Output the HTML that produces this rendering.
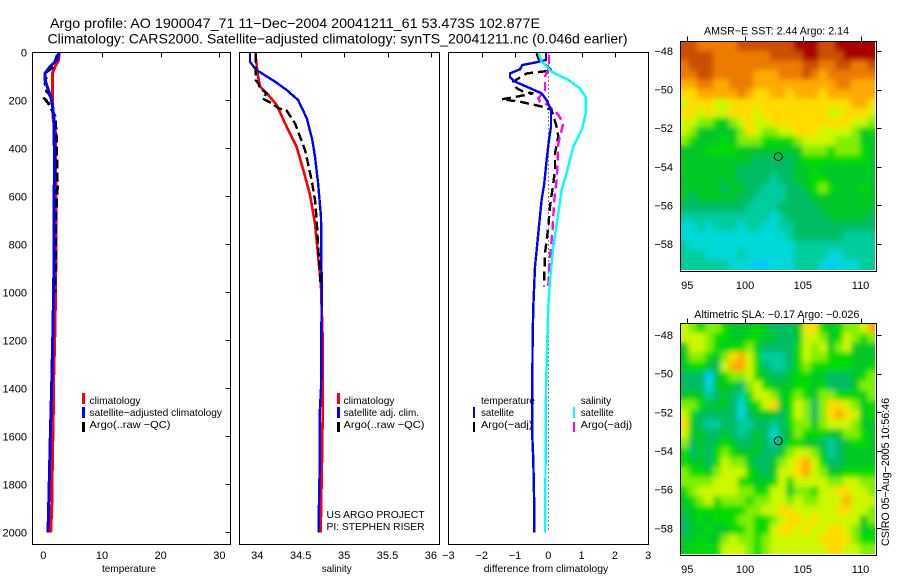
<!DOCTYPE html>
<html lang="en">
<head>
<meta charset="utf-8">
<title>Argo profile 1900047_71</title>
<style>
html,body{margin:0;padding:0;background:#fff;}
svg{display:block;}
text{font-family:"Liberation Sans",sans-serif;fill:#000;}
.t{font-size:14px;}
.s{font-size:11px;}
.l{font-size:10.5px;}
.ax{fill:none;stroke:#000;stroke-width:1;shape-rendering:crispEdges;}
</style>
</head>
<body>
<svg id="fig" xmlns="http://www.w3.org/2000/svg" width="900" height="580" viewBox="0 0 900 580">
  <defs>
    <clipPath id="clip-sst"><rect x="681" y="42" width="194" height="228"/></clipPath>
    <clipPath id="clip-sla"><rect x="681" y="324" width="194" height="230"/></clipPath>
    <filter id="soften" x="-5%" y="-5%" width="110%" height="110%"><feGaussianBlur stdDeviation="2.6"/></filter>
  </defs>
  <rect x="0" y="0" width="900" height="580" fill="#fff"/>
  <text class="t" x="50" y="28" textLength="490" lengthAdjust="spacingAndGlyphs">Argo profile: AO 1900047_71 11−Dec−2004 20041211_61 53.473S 102.877E</text>
  <text class="t" x="47.5" y="43.5" textLength="580" lengthAdjust="spacingAndGlyphs">Climatology: CARS2000. Satellite−adjusted climatology: synTS_20041211.nc (0.046d earlier)</text>

  <g clip-path="url(#clip-sst)">
    <g id="heat-sst"></g>
    <use href="#heat-sst" filter="url(#soften)"/>
  </g>
  <g clip-path="url(#clip-sla)">
    <g id="heat-sla"></g>
    <use href="#heat-sla" filter="url(#soften)"/>
  </g>
  <g id="marks"></g>
  <g id="ticks"></g>

  <rect class="ax" x="32.5" y="52.5" width="198" height="492"/>
  <rect class="ax" x="239.5" y="52.5" width="200" height="492"/>
  <rect class="ax" x="448.5" y="52.5" width="200" height="492"/>
  <rect class="ax" x="680.5" y="41.5" width="196" height="230"/>
  <rect class="ax" x="680.5" y="323.5" width="196" height="232"/>

  <text class="l" x="129" y="572" text-anchor="middle" textLength="54" lengthAdjust="spacingAndGlyphs">temperature</text>
  <text class="l" x="336.7" y="572" text-anchor="middle" textLength="30" lengthAdjust="spacingAndGlyphs">salinity</text>
  <text class="l" x="546" y="572" text-anchor="middle" textLength="124.5" lengthAdjust="spacingAndGlyphs">difference from climatology</text>

  <g shape-rendering="crispEdges">
    <rect x="82" y="393" width="3" height="11" fill="#f00"/>
    <rect x="82" y="407" width="3" height="11" fill="#00f"/>
    <rect x="82" y="422" width="3" height="10" fill="#000"/>
  </g>
  <text class="l" x="89.5" y="404" textLength="51" lengthAdjust="spacingAndGlyphs">climatology</text>
  <text class="l" x="89.5" y="416" textLength="132.5" lengthAdjust="spacingAndGlyphs">satellite−adjusted climatology</text>
  <text class="l" x="89.5" y="428" textLength="81" lengthAdjust="spacingAndGlyphs">Argo(..raw −QC)</text>

  <g shape-rendering="crispEdges">
    <rect x="337" y="393" width="3" height="11" fill="#f00"/>
    <rect x="337" y="407" width="3" height="11" fill="#00f"/>
    <rect x="337" y="422" width="3" height="10" fill="#000"/>
  </g>
  <text class="l" x="343.5" y="404" textLength="51" lengthAdjust="spacingAndGlyphs">climatology</text>
  <text class="l" x="343.5" y="416" textLength="75.5" lengthAdjust="spacingAndGlyphs">satellite adj. clim.</text>
  <text class="l" x="343.5" y="428" textLength="81" lengthAdjust="spacingAndGlyphs">Argo(..raw −QC)</text>
  <text class="l" x="326.5" y="518" textLength="98" lengthAdjust="spacingAndGlyphs">US ARGO PROJECT</text>
  <text class="l" x="326.5" y="530" textLength="98" lengthAdjust="spacingAndGlyphs">PI: STEPHEN RISER</text>

  <g shape-rendering="crispEdges">
    <rect x="473" y="407" width="2" height="11" fill="#00f"/>
    <rect x="473" y="422" width="2" height="10" fill="#000"/>
    <rect x="573" y="407" width="2" height="11" fill="#0ff"/>
    <rect x="573" y="422" width="2" height="10" fill="#f0f"/>
  </g>
  <text class="l" x="481" y="404" textLength="54" lengthAdjust="spacingAndGlyphs">temperature</text>
  <text class="l" x="481" y="416" textLength="33" lengthAdjust="spacingAndGlyphs">satellite</text>
  <text class="l" x="481" y="428" textLength="51.5" lengthAdjust="spacingAndGlyphs">Argo(−adj)</text>
  <text class="l" x="580.7" y="404" textLength="30.5" lengthAdjust="spacingAndGlyphs">salinity</text>
  <text class="l" x="580.7" y="416" textLength="33" lengthAdjust="spacingAndGlyphs">satellite</text>
  <text class="l" x="580.7" y="428" textLength="51.5" lengthAdjust="spacingAndGlyphs">Argo(−adj)</text>

  <text class="s" x="704" y="34.5" textLength="145" lengthAdjust="spacingAndGlyphs">AMSR−E SST: 2.44 Argo: 2.14</text>
  <text class="s" x="694.3" y="318" textLength="165" lengthAdjust="spacingAndGlyphs">Altimetric SLA: −0.17 Argo: −0.026</text>
  <text class="s" transform="translate(889,546) rotate(-90)" x="0" y="0" textLength="148" lengthAdjust="spacingAndGlyphs">CSIRO 05−Aug−2005 10:56:46</text>
</svg>

<script>
/* ---- axis tick labels ---- */
const depthTicks = [0, 200, 400, 600, 800, 1000, 1200, 1400, 1600, 1800, 2000];
const tempTicks = [0, 10, 20, 30];
const salTicks = [34, 34.5, 35, 35.5, 36];
const diffTicks = [-3, -2, -1, 0, 1, 2, 3];
const lonTicks = [95, 100, 105, 110];
const latTicks = [-48, -50, -52, -54, -56, -58];

/* ---- temperature panel ---- */
const tempClimDepth = [0, 32, 60, 88, 226, 281, 337, 781, 1000, 1200, 1400, 1500, 1700, 1900, 2000];
const tempClimValues = [2.73, 2.6, 2.0, 1.54, 1.54, 1.7, 2.1, 2.16, 2.1, 1.95, 1.72, 1.7, 1.55, 1.43, 1.26];
const tempSatDepth = [0, 25, 39, 60, 88, 115, 157, 191, 226, 281, 406, 781, 1000, 1200, 1400, 1600, 1800, 2000];
const tempSatValues = [2.62, 2.5, 1.99, 1.14, 0.29, 0.29, 0.86, 1.31, 1.6, 1.82, 1.88, 1.85, 1.75, 1.6, 1.42, 1.2, 1.0, 0.8];
const tempArgoDepth = [10, 60, 81, 130, 164, 178, 192, 217, 268, 337, 450, 560, 675, 1000];
const tempArgoValues = [2.4, 1.7, 0.6, 0.3, 0.6, 1.2, 0.2, 1.0, 2.0, 2.2, 2.3, 2.4, 2.15, 2.0];

/* ---- salinity panel ---- */
const salClimDepth = [0, 18, 88, 143, 178, 219, 296, 393, 490, 594, 713, 824, 976, 1200, 1500, 1700, 1900, 2000];
const salClimValues = [33.981, 33.981, 34.004, 34.031, 34.127, 34.223, 34.319, 34.453, 34.53, 34.607, 34.665, 34.695, 34.734, 34.753, 34.753, 34.745, 34.735, 34.73];
const salSatDepth = [0, 39, 71, 92, 122, 157, 199, 275, 365, 435, 546, 685, 976, 1400, 1500, 1700, 1900, 2000];
const salSatValues = [33.916, 33.916, 33.98, 34.07, 34.204, 34.339, 34.47, 34.57, 34.634, 34.665, 34.7, 34.734, 34.742, 34.734, 34.72, 34.72, 34.71, 34.705];
const salArgoDepth = [4, 115, 129, 150, 171, 192, 212, 233, 243, 296, 351, 407, 469, 532, 615, 699, 810, 921, 976];
const salArgoValues = [33.98, 33.98, 34.012, 34.031, 34.108, 34.058, 34.165, 34.242, 34.338, 34.434, 34.492, 34.55, 34.588, 34.626, 34.665, 34.684, 34.7, 34.722, 34.73];

/* ---- difference panel ---- */
const diffTempSatDepth = [0, 32, 43, 53, 71, 88, 104, 122, 171, 199, 240, 310, 365, 449, 546, 615, 754, 893, 1060, 1200, 1400, 1600, 1700, 1900, 2000];
const diffTempSatValues = [-0.07, -0.07, -0.4, -0.78, -0.85, -1.15, -1.15, -1.0, -0.2, -0.05, 0.08, 0.08, 0.02, -0.05, -0.12, -0.2, -0.3, -0.4, -0.45, -0.47, -0.48, -0.48, -0.45, -0.42, -0.42];
const diffSalSatDepth = [0, 39, 81, 115, 150, 185, 254, 317, 393, 476, 574, 671, 810, 950, 1060, 1200, 1400, 1700, 2000];
const diffSalSatValues = [-0.3, -0.2, 0.1, 0.6, 0.95, 1.12, 1.12, 1.02, 0.75, 0.6, 0.4, 0.3, 0.15, 0.05, 0.0, -0.03, -0.07, -0.08, -0.1];
const diffTempArgoDepth = [4, 25, 76, 81, 88, 122, 150, 164, 171, 185, 196, 206, 226, 240, 310, 351, 421, 490, 546, 643, 726, 838, 976];
const diffTempArgoValues = [-0.35, -0.3, 0.1, -0.2, -0.65, -1.05, -0.95, -0.75, -0.45, -0.95, -1.4, -0.85, -0.2, 0.1, 0.25, 0.3, 0.2, 0.2, 0.15, 0.05, 0, -0.1, -0.13];
const diffSalArgoDepth = [11, 67, 101, 157, 192, 206, 220, 261, 296, 379, 463, 532, 615, 754, 851, 976];
const diffSalArgoValues = [0.02, 0.02, -0.1, -0.1, -0.3, -0.25, 0, 0.3, 0.45, 0.3, 0.28, 0.25, 0.18, 0.12, 0.05, 0];
const zeroLineDepth = [0, 2000];
const zeroLineValues = [0, 0];

/* ---- map positions ---- */
const floatLon = [102.877];
const floatLat = [-53.473];

/* ---- heatmap values, colour-level per cell (north to south) ---- */
const sstRow00 = [11,11,10,10,10,10,10,11,11,11,11,11,11,11,12,12,12,11,11,12,12,12,12,12];
const sstRow01 = [11,11,11,11,10,10,10,10,10,10,10,11,11,11,11,12,12,11,11,11,12,12,12,12];
const sstRow02 = [10,11,11,11,10,10,10,10,10,10,10,10,10,10,10,11,11,10,10,11,11,10,10,11];
const sstRow03 = [10,10,11,11,10,10,10,10,10,9,9,9,10,10,10,11,10,9,10,10,10,10,10,10];
const sstRow04 = [9,9,10,10,9,9,10,10,10,9,9,9,9,9,9,9,9,9,9,10,10,9,9,9];
const sstRow05 = [8,8,9,9,9,9,9,10,9,8,8,9,9,8,9,9,9,8,9,9,9,9,9,9];
const sstRow06 = [7,8,8,8,7,7,8,8,8,8,8,8,8,8,8,8,8,8,8,8,8,9,9,8];
const sstRow07 = [8,8,7,8,7,7,8,8,8,7,8,8,8,8,8,8,8,8,7,7,8,8,8,7];
const sstRow08 = [7,7,6,6,5,4,6,7,8,7,7,8,8,8,8,8,8,8,8,8,8,7,7,6];
const sstRow09 = [7,6,4,4,4,4,4,6,8,7,6,6,7,7,8,8,8,7,7,7,7,6,4,5];
const sstRow10 = [6,5,4,4,4,5,4,6,6,6,5,5,5,5,6,7,7,7,7,6,6,6,4,4];
const sstRow11 = [4,4,4,5,5,5,5,4,4,4,4,4,4,4,4,6,6,6,5,6,6,6,5,4];
const sstRow12 = [4,4,4,4,4,4,4,4,4,3,3,3,3,3,4,5,5,5,5,5,5,5,5,4];
const sstRow13 = [4,4,4,4,4,4,4,3,3,3,3,3,3,3,4,4,5,4,4,4,4,4,4,4];
const sstRow14 = [4,4,4,4,4,4,4,3,3,3,3,2,3,3,4,4,5,5,4,4,4,4,4,4];
const sstRow15 = [4,4,4,4,4,3,4,4,3,3,2,2,2,3,3,4,5,6,5,4,4,4,5,4];
const sstRow16 = [4,3,4,4,4,4,4,3,3,2,2,2,2,3,3,3,4,4,4,4,4,4,4,4];
const sstRow17 = [3,3,3,3,3,3,3,3,2,2,2,2,3,3,3,3,3,4,4,4,4,4,4,4];
const sstRow18 = [2,2,2,2,2,2,2,2,2,2,2,1,2,3,3,3,3,3,4,4,4,4,4,3];
const sstRow19 = [1,1,2,1,2,2,2,1,2,2,1,1,2,2,3,3,3,3,3,3,3,3,3,3];
const sstRow20 = [1,1,1,1,1,1,1,1,1,1,1,1,1,2,3,3,3,3,3,3,2,2,2,2];
const sstRow21 = [2,1,1,1,1,1,1,1,1,1,1,1,1,1,2,2,2,2,2,2,2,2,2,2];
const sstRow22 = [2,2,2,1,1,1,1,2,1,1,1,1,1,1,2,2,2,2,1,1,2,2,2,2];
const sstRow23 = [2,2,2,2,2,2,1,1,1,0,0,1,1,1,2,2,2,1,0,1,1,1,2,2];
const sstRows = [sstRow00,sstRow01,sstRow02,sstRow03,sstRow04,sstRow05,sstRow06,sstRow07,sstRow08,sstRow09,sstRow10,sstRow11,sstRow12,sstRow13,sstRow14,sstRow15,sstRow16,sstRow17,sstRow18,sstRow19,sstRow20,sstRow21,sstRow22,sstRow23];

const slaRow00 = [7,6,5,6,6,5,4,4,4,5,4,3,3,3,4,8,8,5,4,5,6,6,7,9];
const slaRow01 = [7,7,7,6,5,5,4,4,5,5,4,4,3,3,4,7,7,6,4,5,7,6,5,6];
const slaRow02 = [4,7,7,6,5,4,5,5,6,4,3,3,3,3,5,7,6,7,4,6,7,4,4,4];
const slaRow03 = [4,6,6,5,4,6,8,9,7,5,2,2,2,3,5,7,6,6,5,5,5,4,4,4];
const slaRow04 = [4,5,5,4,3,7,9,9,7,5,3,2,2,3,5,6,5,5,5,5,5,4,4,5];
const slaRow05 = [3,3,3,0,4,5,6,6,7,5,4,3,3,4,5,5,4,4,3,3,3,4,5,6];
const slaRow06 = [3,3,3,1,4,4,4,3,6,7,5,4,4,4,5,5,4,5,3,3,3,4,6,6];
const slaRow07 = [4,4,4,2,3,4,3,2,5,7,7,6,4,5,6,5,4,6,6,5,5,5,4,6];
const slaRow08 = [6,6,5,4,4,4,3,1,4,5,7,8,4,5,7,6,3,6,8,8,7,6,4,5];
const slaRow09 = [7,5,3,3,3,3,3,1,3,4,4,4,3,5,7,6,3,6,8,9,8,7,4,5];
const slaRow10 = [8,4,3,2,2,3,3,2,2,3,3,2,3,5,6,6,4,6,7,7,7,6,4,4];
const slaRow11 = [7,4,4,3,3,4,3,2,3,4,3,1,3,4,6,5,5,5,4,4,6,6,5,4];
const slaRow12 = [6,3,4,3,4,5,4,3,3,4,3,2,3,5,5,4,4,3,2,3,4,5,5,4];
const slaRow13 = [5,3,4,3,5,6,5,4,4,4,3,3,4,6,7,7,6,4,2,3,4,4,4,4];
const slaRow14 = [5,4,4,3,5,7,6,6,4,3,3,4,6,7,8,9,7,5,3,3,4,4,4,4];
const slaRow15 = [6,5,5,4,6,7,7,7,5,4,3,4,7,7,8,9,7,6,4,4,5,5,5,5];
const slaRow16 = [6,6,6,6,7,7,7,5,5,4,4,5,7,5,7,7,7,7,6,6,7,7,6,6];
const slaRow17 = [5,6,7,7,7,7,7,6,6,5,5,7,7,4,6,6,5,7,7,8,8,7,7,6];
const slaRow18 = [4,5,6,7,5,6,6,6,5,6,6,7,7,6,7,6,6,7,7,7,9,7,7,7];
const slaRow19 = [4,4,5,5,5,5,5,5,6,6,7,7,8,8,7,7,7,7,7,8,8,7,7,6];
const slaRow20 = [3,4,5,4,5,5,5,6,6,5,5,6,7,8,8,7,8,7,7,7,7,7,4,6];
const slaRow21 = [3,4,4,5,4,4,5,5,6,5,5,7,8,8,7,8,7,7,8,8,7,6,4,5];
const slaRow22 = [4,4,5,4,4,6,7,6,6,5,6,7,7,7,7,7,7,8,8,8,8,6,5,5];
const slaRow23 = [4,5,5,5,5,7,7,7,6,5,6,7,7,7,7,7,7,7,8,8,7,7,6,6];
const slaRows = [slaRow00,slaRow01,slaRow02,slaRow03,slaRow04,slaRow05,slaRow06,slaRow07,slaRow08,slaRow09,slaRow10,slaRow11,slaRow12,slaRow13,slaRow14,slaRow15,slaRow16,slaRow17,slaRow18,slaRow19,slaRow20,slaRow21,slaRow22,slaRow23];

const levelColors = ['#00c8ff','#00d8d8','#00cc9c','#00bc64','#00c828','#00dc00','#80f000','#ccf800','#ffdc00','#ffaa00','#ec7c00','#cc5000','#aa0000'];

/* ---- axis functions ---- */
const depthY = d => 52.3 + d * 0.24;
const tempX = v => 43.3 + v * 5.87;
const salX = v => 257.3 + (v - 34) * 86.8;
const diffX = v => 548.3 + v * 33.3;
const mapX = lon => 687.3 + (lon - 95) * 11.55;
const sstY = lat => 51 + (-48 - lat) * 19.3;
const slaY = lat => 335 + (-48 - lat) * 19.33;

const SVGNS = 'http://www.w3.org/2000/svg';
const marks = document.getElementById('marks');
const ticksG = document.getElementById('ticks');
const fig = document.getElementById('fig');

function drawLine(name, xs, ys, xf, color, width, dash) {
  const el = document.createElementNS(SVGNS, 'polyline');
  
  
  el.setAttribute('points', xs.map((v, i) => xf(v).toFixed(1) + ',' + depthY(ys[i]).toFixed(1)).join(' '));
  el.setAttribute('fill', 'none');
  el.setAttribute('stroke', color);
  el.setAttribute('stroke-width', width);
  el.setAttribute('shape-rendering', 'crispEdges');
  if (dash) el.setAttribute('stroke-dasharray', dash);
  marks.appendChild(el);
}

function drawTick(name, x1, y1, x2, y2) {
  const el = document.createElementNS(SVGNS, 'line');
  
  
  el.setAttribute('x1', x1);
  el.setAttribute('y1', y1);
  el.setAttribute('x2', x2);
  el.setAttribute('y2', y2);
  el.setAttribute('stroke', '#000');
  el.setAttribute('shape-rendering', 'crispEdges');
  ticksG.appendChild(el);
}

function drawLabel(name, x, y, str, anchor) {
  const el = document.createElementNS(SVGNS, 'text');
  
  
  el.setAttribute('class', 's');
  el.setAttribute('x', x);
  el.setAttribute('y', y);
  el.setAttribute('text-anchor', anchor);
  el.textContent = str;
  fig.appendChild(el);
}

function drawHeat(groupId, rows, yf, latTop, latBottom, name) {
  const g = document.getElementById(groupId);
  const lonL = 94.4, lonR = 111.3;
  const nr = rows.length;
  rows.forEach((row, r) => {
    const nc = row.length;
    row.forEach((v, c) => {
      const x0 = mapX(lonL + (lonR - lonL) * c / nc);
      const x1 = mapX(lonL + (lonR - lonL) * (c + 1) / nc);
      const y0 = yf(latTop + (latBottom - latTop) * r / nr);
      const y1 = yf(latTop + (latBottom - latTop) * (r + 1) / nr);
      const el = document.createElementNS(SVGNS, 'rect');
      
      
      el.setAttribute('x', x0.toFixed(2));
      el.setAttribute('y', y0.toFixed(2));
      el.setAttribute('width', (x1 - x0 + 1).toFixed(2));
      el.setAttribute('height', (y1 - y0 + 1).toFixed(2));
      el.setAttribute('fill', levelColors[v]);
      el.setAttribute('shape-rendering', 'crispEdges');
      g.appendChild(el);
    });
  });
}

function drawFloat(name, yf) {
  const el = document.createElementNS(SVGNS, 'circle');
  
  
  el.setAttribute('cx', mapX(floatLon[0]));
  el.setAttribute('cy', yf(floatLat[0]));
  el.setAttribute('r', 4);
  el.setAttribute('fill', 'none');
  el.setAttribute('stroke', '#000');
  fig.appendChild(el);
}

const fmt = v => String(v).replace('-', '−');

/* heatmaps */
drawHeat('heat-sst', sstRows, sstY, -47.5, -59.3, 'sst-cell');
drawHeat('heat-sla', slaRows, slaY, -47.4, -59.3, 'sla-cell');
drawFloat('float-marker-sst', sstY);
drawFloat('float-marker-sla', slaY);

/* series */
drawLine('temperature-climatology-line', tempClimValues, tempClimDepth, tempX, '#f00', 3);
drawLine('temperature-argo-line', tempArgoValues, tempArgoDepth, tempX, '#000', 3, '9 4');
drawLine('temperature-satellite-line', tempSatValues, tempSatDepth, tempX, '#00f', 3);

drawLine('salinity-climatology-line', salClimValues, salClimDepth, salX, '#f00', 2.6);
drawLine('salinity-satellite-line', salSatValues, salSatDepth, salX, '#00f', 2.4);
drawLine('salinity-argo-line', salArgoValues, salArgoDepth, salX, '#000', 2.4, '9 4');

drawLine('zero-difference-line', zeroLineValues, zeroLineDepth, diffX, '#000', 1, '1 3');
drawLine('diff-temperature-argo-line', diffTempArgoValues, diffTempArgoDepth, diffX, '#000', 2.4, '9 5');
drawLine('diff-salinity-argo-line', diffSalArgoValues, diffSalArgoDepth, diffX, '#f0f', 2.4, '9 5');
drawLine('diff-temperature-satellite-line', diffTempSatValues, diffTempSatDepth, diffX, '#00f', 2.4);
drawLine('diff-salinity-satellite-line', diffSalSatValues, diffSalSatDepth, diffX, '#0ff', 2.4);

/* panel ticks */
depthTicks.forEach(d => {
  const y = Math.floor(depthY(d)) + 0.5;
  if (d > 0) drawTick('depth-tick', 225.5, y, 230.5, y);
  drawLabel('depth-tick-label', 27, depthY(d) + 4, String(d), 'end');
});
tempTicks.forEach(v => {
  const x = Math.round(tempX(v)) + 0.5;
  if (v > 0) drawTick('temperature-tick', x, 52.5, x, 57.5);
  drawLabel('temperature-tick-label', tempX(v), 559, String(v), 'middle');
});
salTicks.forEach(v => {
  const x = Math.round(salX(v)) + 0.5;
  if (v > 34) drawTick('salinity-tick', x, 52.5, x, 57.5);
  drawLabel('salinity-tick-label', salX(v), 559, String(v), 'middle');
});
diffTicks.forEach(v => {
  const x = Math.round(diffX(v)) + 0.5;
  if (Math.abs(v) < 3 && v !== 0) drawTick('difference-tick', x, 52.5, x, 57.5);
  drawLabel('difference-tick-label', diffX(v), 559, fmt(v), 'middle');
});

/* map ticks */
lonTicks.forEach(v => {
  const x = Math.round(mapX(v)) + 0.5;
  drawTick('sst-lon-tick', x, 36.5, x, 41.5);
  drawTick('sla-lon-tick', x, 318.5, x, 323.5);
  drawLabel('sst-lon-label', mapX(v), 289, String(v), 'middle');
  drawLabel('sla-lon-label', mapX(v), 573, String(v), 'middle');
});
latTicks.forEach(v => {
  const y1 = Math.round(sstY(v)) + 0.5;
  const y2 = Math.round(slaY(v)) + 0.5;
  drawTick('sst-lat-tick', 876.5, y1, 881.5, y1);
  drawTick('sla-lat-tick', 876.5, y2, 881.5, y2);
  drawLabel('sst-lat-label', 673, sstY(v) + 4, fmt(v), 'end');
  drawLabel('sla-lat-label', 673, slaY(v) + 4, fmt(v), 'end');
});
</script>
</body>
</html>
